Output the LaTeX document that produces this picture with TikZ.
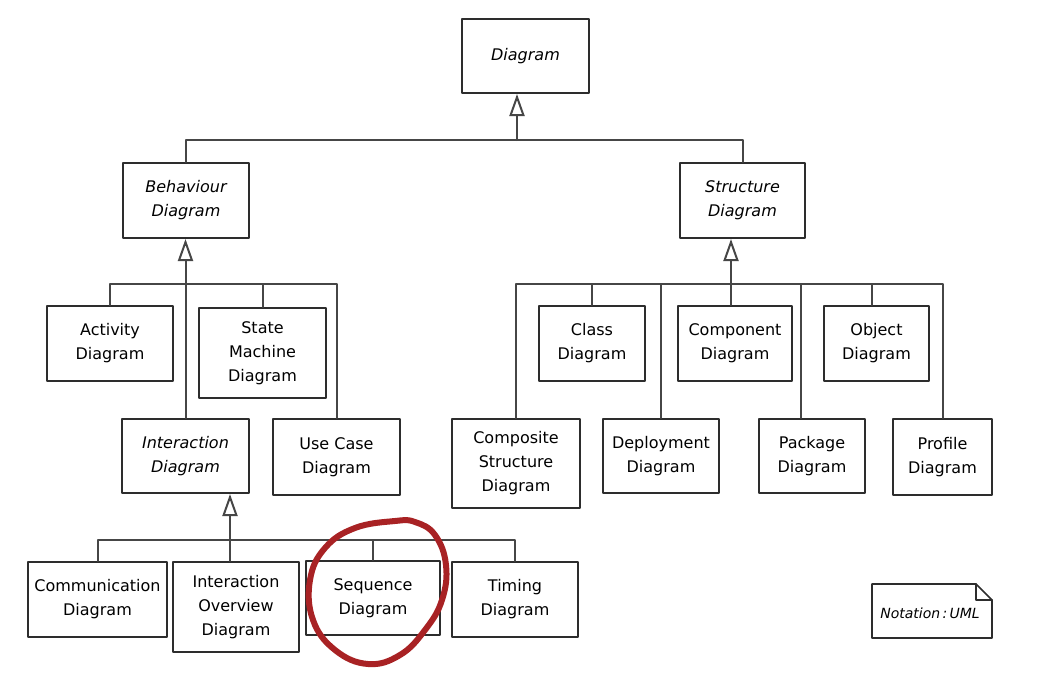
\documentclass[tikz,border=0pt]{standalone}
\usepackage{fontspec}
\setmainfont{DejaVu Sans}
\usetikzlibrary{arrows.meta}
\definecolor{linegray}{RGB}{70,70,70}
\definecolor{boxgray}{RGB}{45,45,45}
\definecolor{penred}{RGB}{168,34,36}
\begin{document}
\begin{tikzpicture}[x=1pt, y=-1pt, line join=round, line cap=round,
	font=\fontsize{16}{24}\selectfont,
	box/.style={draw=boxgray, line width=2pt, fill=white, align=center, inner sep=0pt},
	abs/.style={box, font=\fontsize{16}{24}\selectfont\itshape},
	conn/.style={draw=linegray, line width=2pt},
	gen/.style={conn, -{Triangle[open, length=22pt, width=15pt]}}]
	\useasboundingbox (0,0) rectangle (1037,677);
	% abstract diagrams
	\node[abs, minimum width=127pt, minimum height=74pt] (diag) at (525.5,56) {Diagram};
	\node[abs, minimum width=126pt, minimum height=75pt] (beh) at (186,200.5) {Behaviour\\Diagram};
	\node[abs, minimum width=125pt, minimum height=75pt] (str) at (742.5,200.5) {Structure\\Diagram};
	\node[abs, minimum width=127pt, minimum height=74pt] (inter) at (185.5,456) {Interaction\\Diagram};
	% behaviour diagrams
	\node[box, minimum width=126pt, minimum height=75pt] (act) at (110,343.5) {Activity\\Diagram};
	\node[box, minimum width=127pt, minimum height=90pt] (sm) at (262.5,353) {State\\Machine\\Diagram};
	\node[box, minimum width=127pt, minimum height=76pt] (uc) at (336.5,457) {Use Case\\Diagram};
	% structure diagrams
	\node[box, minimum width=106pt, minimum height=75pt] (cls) at (592,343.5) {Class\\Diagram};
	\node[box, minimum width=114pt, minimum height=75pt] (comp) at (735,343.5) {Component\\Diagram};
	\node[box, minimum width=105pt, minimum height=75pt] (obj) at (876.5,343.5) {Object\\Diagram};
	\node[box, minimum width=128pt, minimum height=89pt] (cs) at (516,463.5) {Composite\\Structure\\Diagram};
	\node[box, minimum width=116pt, minimum height=74pt] (dep) at (661,456) {Deployment\\Diagram};
	\node[box, minimum width=106pt, minimum height=74pt] (pkg) at (812,456) {Package\\Diagram};
	\node[box, minimum width=99pt, minimum height=76pt] (prof) at (942.5,457) {Profile\\Diagram};
	% interaction diagrams
	\node[box, minimum width=139pt, minimum height=75pt] (commu) at (97.5,599.5) {Communication\\Diagram};
	\node[box, minimum width=126pt, minimum height=90pt] (io) at (236,607) {Interaction\\Overview\\Diagram};
	\node[box, minimum width=134pt, minimum height=74pt] (seq) at (373,598) {Sequence\\Diagram};
	\node[box, minimum width=126pt, minimum height=75pt] (tim) at (515,599.5) {Timing\\Diagram};
	% generalisations
	\coordinate (t1) at (517,140);
	\draw[gen] (t1) -- (t1 |- diag.south);
	\draw[conn] (beh.north) |- (t1) -| (str.north);
	\coordinate (b1) at (186,284);
	\draw[gen] (inter.north) -- (inter.north |- beh.south);
	\draw[conn] (act.north) |- (b1) -| (uc.north);
	\draw[conn] (sm.north) -- (sm.north |- b1);
	\coordinate (s1) at (731,284);
	\coordinate (p1) at (801,284);
	\coordinate (o1) at (872,284);
	\draw[gen] (s1 |- comp.north) -- (s1 |- str.south);
	\draw[conn] (cs.north) |- (s1) -| (prof.north);
	\draw[conn] (cls.north) -- (cls.north |- s1);
	\draw[conn] (dep.north) -- (dep.north |- s1);
	\draw[conn] (p1) -- (p1 |- pkg.north);
	\draw[conn] (o1) -- (o1 |- obj.north);
	\coordinate (i1) at (230,540);
	\draw[gen] (i1 |- io.north) -- (i1 |- inter.south);
	\draw[conn] (commu.north) |- (i1) -| (tim.north);
	\draw[conn] (seq.north) -- (seq.north |- i1);
	% note
	\draw[boxgray, line width=1.6pt, fill=white] (872,584) -- (976,584) -- (992,600) -- (992,638) -- (872,638) -- cycle;
	\draw[boxgray, line width=1.6pt] (976,584) -- (976,600) -- (992,600);
	\node[font=\fontsize{14}{16}\selectfont\itshape] (note) at (930,613) {Notation\,:\,UML};
	% hand-drawn mark
	\draw[penred, line width=6pt] plot[smooth cycle, tension=0.7] coordinates {(395,521) (355,528) (325,548) (310,580) (313,620) (335,650) (368,664) (400,655) (425,630) (442,600) (446,565) (435,535) (415,522)};
\end{tikzpicture}
\end{document}
